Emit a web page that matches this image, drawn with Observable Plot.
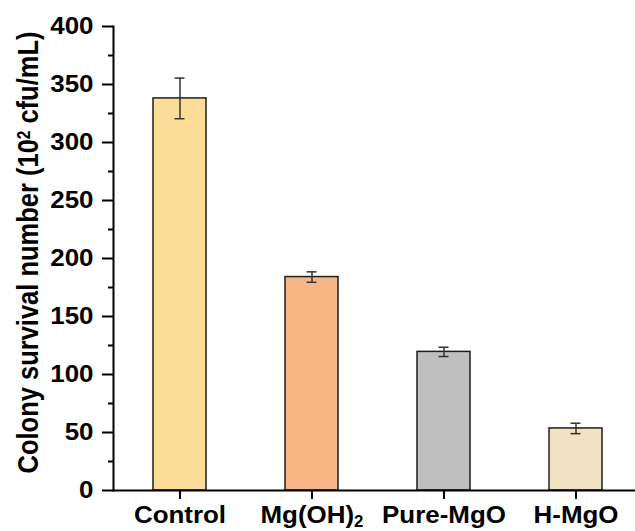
<!DOCTYPE html>
<html>
<head>
<meta charset="utf-8">
<script src="https://cdn.jsdelivr.net/npm/d3@7"></script>
<script src="https://cdn.jsdelivr.net/npm/@observablehq/plot@0.6"></script>
<style>
  html, body { margin: 0; padding: 0; background: #ffffff; }
  #chart svg { display: block; }
</style>
</head>
<body>
<div id="chart"></div>
<script>
// ---- data ----
const categories = ["Control", "Mg(OH)2", "Pure-MgO", "H-MgO"];
const values = [338, 184, 119.5, 53.5];
const errors = [17.5, 4.5, 4, 4.5];
const colors = ["#FBDD98", "#F7B686", "#BFBFBF", "#F1E2C4"];
const majorTicks = [0, 50, 100, 150, 200, 250, 300, 350, 400];
const minorTicks = [25, 75, 125, 175, 225, 275, 325, 375];
const titleParts = ["Colony survival number (10", "2", " cfu/mL)"];
const yTitle = titleParts.join("");

const data = categories.map((c, i) => ({
  name: c, value: values[i], lo: values[i] - errors[i], hi: values[i] + errors[i], color: colors[i]
}));

const font = "'Liberation Sans', Arial, Helvetica, sans-serif";

const chart = Plot.plot({
  width: 635,
  height: 531,
  marginLeft: 113,
  marginRight: 0,
  marginTop: 26,
  marginBottom: 41,
  style: { fontFamily: font, fontWeight: "bold", fontSize: "24px", background: "#ffffff", color: "#000" },
  x: { domain: categories, paddingInner: 0.6, paddingOuter: 0.273, align: 0.544, label: null },
  y: { domain: [0, 400], label: null },
  marks: [
    Plot.barY(data, { x: "name", y: "value", fill: "color", stroke: "#1e1e1e", strokeWidth: 1.5 }),
    Plot.ruleX(data, { x: "name", y1: "lo", y2: "hi", stroke: "#333333", strokeWidth: 1.5 }),
    Plot.tickY(data, { x: "name", y: "lo", stroke: "#333333", strokeWidth: 1.5, insetLeft: 21.5, insetRight: 21.5 }),
    Plot.tickY(data, { x: "name", y: "hi", stroke: "#333333", strokeWidth: 1.5, insetLeft: 21.5, insetRight: 21.5 }),
    Plot.frame({ anchor: "left", stroke: "#000", strokeWidth: 2 }),
    Plot.frame({ anchor: "bottom", stroke: "#000", strokeWidth: 2 }),
    Plot.axisY(majorTicks, { tickSize: 11, tickPadding: 9, strokeWidth: 2, stroke: "#000", fontSize: 24, fontWeight: "bold", label: null }),
    Plot.axisY(minorTicks, { tickSize: 5, strokeWidth: 2, stroke: "#000", tickFormat: () => "", label: null }),
    Plot.axisX({ tickSize: 9, tickPadding: 6, strokeWidth: 2, stroke: "#000", fontSize: 24, fontWeight: "bold", label: null }),
    Plot.text([yTitle], { frameAnchor: "left", rotate: -90, dx: -76, dy: -6, lineAnchor: "bottom", textAnchor: "middle", fontSize: 25.5, fontWeight: "bold", fill: "#000" })
  ]
});

document.getElementById("chart").appendChild(chart);

// rich text (superscript / subscript) and the reference's slightly wide lettering
const tickStretch = 1.08;
const titleStretch = 1.15;
d3.select(chart).selectAll("text").each(function () {
  const t = d3.select(this);
  const s = this.textContent;
  if (s === "") return;
  if (s === yTitle) {
    t.text("");
    t.append("tspan").text(titleParts[0]);
    t.append("tspan").attr("dy", "-0.45em").attr("font-size", "0.6em").text(titleParts[1]);
    t.append("tspan").attr("dy", "0.27em").text(titleParts[2]);
    const tr = t.attr("transform") || "";
    t.attr("transform", tr + ` scale(1,${titleStretch})`);
    return;
  }
  if (s === categories[1]) {
    t.text("");
    t.append("tspan").text("Mg(OH)");
    t.append("tspan").attr("dy", "0.3em").attr("font-size", "0.65em").text("2");
  }
  const len = this.getComputedTextLength();
  if (len > 0) {
    t.attr("textLength", len * tickStretch).attr("lengthAdjust", "spacingAndGlyphs");
  }
});
</script>
</body>
</html>
